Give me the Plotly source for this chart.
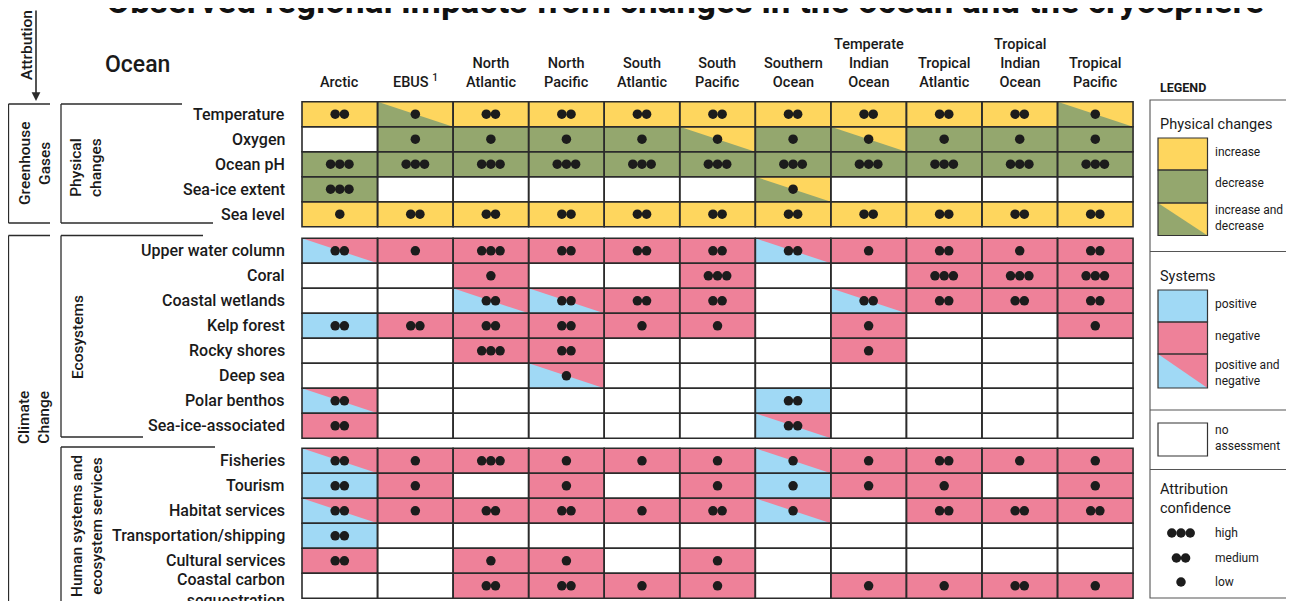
import plotly.graph_objects as go

# ---------------- data ----------------
regions = ["Arctic", "EBUS", "North Atlantic", "North Pacific", "South Atlantic",
           "South Pacific", "Southern Ocean", "Temperate Indian Ocean",
           "Tropical Atlantic", "Tropical Indian Ocean", "Tropical Pacific"]
region_labels = ["Arctic", "EBUS <sup>1</sup>", "North<br>Atlantic", "North<br>Pacific",
                 "South<br>Atlantic", "South<br>Pacific", "Southern<br>Ocean",
                 "Temperate<br>Indian<br>Ocean", "Tropical<br>Atlantic",
                 "Tropical<br>Indian<br>Ocean", "Tropical<br>Pacific"]

# Physical changes: I = increase, D = decrease, ID = increase and decrease, "" = no assessment
physical_rows = ["Temperature", "Oxygen", "Ocean pH", "Sea-ice extent", "Sea level"]
physical_change = [
    ["I", "ID", "I", "I", "I", "I", "I", "I", "I", "I", "ID"],
    ["", "D", "D", "D", "D", "ID", "D", "ID", "D", "D", "D"],
    ["D", "D", "D", "D", "D", "D", "D", "D", "D", "D", "D"],
    ["D", "", "", "", "", "", "ID", "", "", "", ""],
    ["I", "I", "I", "I", "I", "I", "I", "I", "I", "I", "I"],
]
physical_conf = [
    [2, 1, 2, 2, 2, 2, 2, 2, 2, 2, 1],
    [0, 1, 1, 1, 1, 1, 1, 1, 1, 1, 1],
    [3, 3, 3, 3, 3, 3, 3, 3, 3, 3, 3],
    [3, 0, 0, 0, 0, 0, 1, 0, 0, 0, 0],
    [1, 2, 2, 2, 2, 2, 2, 2, 2, 2, 2],
]

# Systems: P = positive, N = negative, PN = positive and negative, "" = no assessment
ecosystem_rows = ["Upper water column", "Coral", "Coastal wetlands", "Kelp forest",
                  "Rocky shores", "Deep sea", "Polar benthos", "Sea-ice-associated"]
ecosystem_impact = [
    ["PN", "N", "N", "N", "N", "N", "PN", "N", "N", "N", "N"],
    ["", "", "N", "", "", "N", "", "", "N", "N", "N"],
    ["", "", "PN", "PN", "N", "N", "", "PN", "N", "N", "N"],
    ["P", "N", "N", "N", "N", "N", "", "N", "", "", "N"],
    ["", "", "N", "N", "", "", "", "N", "", "", ""],
    ["", "", "", "PN", "", "", "", "", "", "", ""],
    ["PN", "", "", "", "", "", "P", "", "", "", ""],
    ["N", "", "", "", "", "", "PN", "", "", "", ""],
]
ecosystem_conf = [
    [2, 1, 3, 2, 2, 2, 2, 1, 2, 1, 2],
    [0, 0, 1, 0, 0, 3, 0, 0, 3, 3, 3],
    [0, 0, 2, 2, 2, 2, 0, 2, 2, 2, 2],
    [2, 2, 2, 2, 1, 1, 0, 1, 0, 0, 1],
    [0, 0, 3, 2, 0, 0, 0, 1, 0, 0, 0],
    [0, 0, 0, 1, 0, 0, 0, 0, 0, 0, 0],
    [2, 0, 0, 0, 0, 0, 2, 0, 0, 0, 0],
    [2, 0, 0, 0, 0, 0, 2, 0, 0, 0, 0],
]

human_rows = ["Fisheries", "Tourism", "Habitat services", "Transportation/shipping",
              "Cultural services", "Coastal carbon<br>sequestration"]
human_impact = [
    ["PN", "N", "N", "N", "N", "N", "PN", "N", "N", "N", "N"],
    ["P", "N", "", "N", "", "N", "P", "N", "N", "", "N"],
    ["PN", "N", "N", "N", "N", "N", "PN", "", "N", "N", "N"],
    ["P", "", "", "", "", "", "", "", "", "", ""],
    ["N", "", "N", "N", "", "N", "", "", "", "", ""],
    ["", "", "N", "N", "N", "N", "", "N", "N", "N", "N"],
]
human_conf = [
    [2, 1, 3, 1, 1, 1, 1, 1, 2, 1, 1],
    [2, 1, 0, 1, 0, 1, 1, 1, 1, 0, 1],
    [2, 1, 2, 2, 1, 2, 1, 0, 2, 2, 2],
    [2, 0, 0, 0, 0, 0, 0, 0, 0, 0, 0],
    [2, 0, 1, 1, 0, 1, 0, 0, 0, 0, 0],
    [0, 0, 2, 2, 1, 1, 0, 1, 1, 2, 1],
]

# ---------------- style ----------------
YELLOW = "#FED65E"
GREEN = "#94A76E"
BLUE = "#A0D9F5"
PINK = "#EE8199"
EDGE = "#2b2b2b"
DOT = "#1c1c1c"
FONT = "Roboto"
TXT = "#1a1a1a"

# page body has an 8px margin: figure is drawn from (8, 8) and axes use window pixels
OFF = 8
WIN_W, WIN_H = 1294, 601
W, H = WIN_W - OFF, WIN_H - OFF
GRID_X0 = 302.0
COL_W = 75.55
ROW_H = 25.0
SECTION_TOPS = [101.7, 238.3, 448.3]
DOT_STEP = 9.2

fill_map = {
    "I": (YELLOW, None), "D": (GREEN, None), "ID": (GREEN, YELLOW),
    "P": (BLUE, None), "N": (PINK, None), "PN": (BLUE, PINK),
}

fill_shapes, tri_shapes, edge_shapes = [], [], []
annotations = []
dot_x, dot_y = [], []


def add_dots(cx, cy, n):
    for k in range(n):
        dot_x.append(cx + (k - (n - 1) / 2) * DOT_STEP)
        dot_y.append(cy)


sections = [
    (physical_rows, physical_change, physical_conf),
    (ecosystem_rows, ecosystem_impact, ecosystem_conf),
    (human_rows, human_impact, human_conf),
]

for (rows, codes, confs), top in zip(sections, SECTION_TOPS):
    for r, row_name in enumerate(rows):
        y0 = top + r * ROW_H
        y1 = y0 + ROW_H
        cy = (y0 + y1) / 2
        dy = 4 if "<br>" in row_name else 0
        annotations.append(dict(x=287, y=cy + dy, xref="x", yref="y", text=row_name,
                                showarrow=False, xanchor="right", yanchor="middle",
                                align="right",
                                font=dict(family=FONT, size=16, color=TXT, weight=500)))
        for c in range(len(regions)):
            x0 = GRID_X0 + c * COL_W
            x1 = x0 + COL_W
            code = codes[r][c]
            if code:
                base, top_right = fill_map[code]
                fill_shapes.append(dict(type="rect", xref="x", yref="y", x0=x0, x1=x1,
                                        y0=y0, y1=y1, fillcolor=base, line=dict(width=0),
                                        layer="below"))
                if top_right:
                    tri_shapes.append(dict(type="path", xref="x", yref="y",
                                           path=f"M{x0},{y0} L{x1},{y0} L{x1},{y1} Z",
                                           fillcolor=top_right, line=dict(width=0),
                                           layer="below"))
            edge_shapes.append(dict(type="rect", xref="x", yref="y", x0=x0, x1=x1,
                                    y0=y0, y1=y1, fillcolor="rgba(0,0,0,0)",
                                    line=dict(color=EDGE, width=1.6), layer="below"))
            if confs[r][c]:
                add_dots((x0 + x1) / 2, cy, confs[r][c])

# column headers
for c, lab in enumerate(region_labels):
    annotations.append(dict(x=GRID_X0 + (c + 0.5) * COL_W, y=93, xref="x", yref="y",
                            text=lab, showarrow=False, xanchor="center", yanchor="bottom",
                            align="center",
                            font=dict(family=FONT, size=14.5, color=TXT, weight=500)))

# Title (cut at top as in the reference)
annotations.append(dict(x=685, y=24, xref="x", yref="y",
                        text="Observed regional impacts from changes in the ocean and the cryosphere",
                        showarrow=False, xanchor="center", yanchor="bottom",
                        font=dict(family=FONT, size=35, color="#111", weight="bold")))
annotations.append(dict(x=103, y=64, xref="x", yref="y", text="Ocean", showarrow=False,
                        xanchor="left", yanchor="middle",
                        font=dict(family=FONT, size=23, color=TXT, weight=500)))

# left brackets
line_style = dict(color=EDGE, width=1.3)
bracket_shapes = []


def bracket(x, y_top, y_bot, top_len_end, bot_len_end):
    bracket_shapes.append(dict(type="line", xref="x", yref="y", x0=x, x1=x, y0=y_top,
                               y1=y_bot, line=line_style))
    bracket_shapes.append(dict(type="line", xref="x", yref="y", x0=x, x1=top_len_end,
                               y0=y_top, y1=y_top, line=line_style))
    if bot_len_end is not None:
        bracket_shapes.append(dict(type="line", xref="x", yref="y", x0=x, x1=bot_len_end,
                                   y0=y_bot, y1=y_bot, line=line_style))


bracket(8.5, 104, 223, 50, 50)
bracket(8.5, 235.5, 610, 50, None)
bracket(61, 104, 223, 182, 213)
bracket(61, 235.5, 437, 203, 143)
bracket(61, 447, 610, 215, None)

rot_font = dict(family=FONT, size=15.5, color=TXT, weight=500)
for txt, x, y in [("Attrbution", 27, 45), ("Greenhouse<br>Gases", 35, 164),
                  ("Climate<br>Change", 34, 418), ("Physical<br>changes", 86, 168),
                  ("Ecosystems", 78, 337), ("Human systems and<br>ecosystem services", 87, 526)]:
    annotations.append(dict(x=x, y=y, xref="x", yref="y", text=txt, textangle=-90,
                            showarrow=False, xanchor="center", yanchor="middle",
                            align="center", font=rot_font))

# attribution arrow
annotations.append(dict(x=36, y=101, ax=36, ay=9, xref="x", yref="y", axref="x", ayref="y",
                        text="", showarrow=True, arrowhead=2, arrowsize=1.1,
                        arrowwidth=1.6, arrowcolor=EDGE))

# ---------------- legend panel ----------------
LX0, LX1 = 1150, 1290
legend_shapes = [
    dict(type="rect", xref="x", yref="y", x0=LX0, x1=LX1, y0=100, y1=598,
         line=dict(color="#555", width=1.1), fillcolor="rgba(0,0,0,0)"),
]
for ysep in [251.5, 410, 469.5]:
    legend_shapes.append(dict(type="line", xref="x", yref="y", x0=LX0, x1=LX1, y0=ysep,
                              y1=ysep, line=dict(color="#555", width=1.1)))

SW0, SW1 = 1158, 1207.5
legend_items = [
    ("I", 138, 170), ("D", 170, 203), ("ID", 203, 235.5),
    ("P", 290, 322), ("N", 322, 354), ("PN", 354, 388),
]
for code, y0, y1 in legend_items:
    base, tr = fill_map[code]
    legend_shapes.append(dict(type="rect", xref="x", yref="y", x0=SW0, x1=SW1, y0=y0, y1=y1,
                              fillcolor=base, line=dict(width=0)))
    if tr:
        legend_shapes.append(dict(type="path", xref="x", yref="y",
                                  path=f"M{SW0},{y0} L{SW1},{y0} L{SW1},{y1} Z",
                                  fillcolor=tr, line=dict(width=0)))
for code, y0, y1 in legend_items:
    legend_shapes.append(dict(type="rect", xref="x", yref="y", x0=SW0, x1=SW1, y0=y0, y1=y1,
                              fillcolor="rgba(0,0,0,0)", line=dict(color="#333", width=1.2)))
legend_shapes.append(dict(type="rect", xref="x", yref="y", x0=SW0, x1=SW1, y0=423, y1=456,
                          fillcolor="white", line=dict(color="#333", width=1.2)))

small = dict(family=FONT, size=12, color=TXT)
head = dict(family=FONT, size=14.5, color=TXT)
legend_texts = [
    ("LEGEND", 1158, 87, dict(family=FONT, size=12.5, color=TXT, weight="bold")),
    ("Physical changes", 1158, 124, head),
    ("increase", 1213, 152, small), ("decrease", 1213, 183, small),
    ("increase and<br>decrease", 1213, 218, small),
    ("Systems", 1158, 276, head),
    ("positive", 1213, 304, small), ("negative", 1213, 336, small),
    ("positive and<br>negative", 1213, 373, small),
    ("no<br>assessment", 1213, 438, small),
    ("Attribution<br>confidence", 1158, 499, head),
    ("high", 1213, 533, small), ("medium", 1213, 558, small), ("low", 1213, 582, small),
]
for txt, x, y, f in legend_texts:
    annotations.append(dict(x=x, y=y, xref="x", yref="y", text=txt, showarrow=False,
                            xanchor="left", yanchor="middle", align="left", font=f))

legend_conf_levels = [3, 2, 1]
for n, yy in zip(legend_conf_levels, [533, 558, 582]):
    add_dots(1181, yy, n)

fig = go.Figure()
fig.add_trace(go.Scatter(x=dot_x, y=dot_y, mode="markers",
                         marker=dict(size=9.5, color=DOT, line=dict(width=0)),
                         hoverinfo="skip", showlegend=False, cliponaxis=False))

fig.update_layout(
    width=W, height=H, autosize=False,
    margin=dict(l=0, r=0, t=0, b=0, pad=0),
    paper_bgcolor="white", plot_bgcolor="white",
    xaxis=dict(range=[OFF, WIN_W], visible=False, fixedrange=True),
    yaxis=dict(range=[WIN_H, OFF], visible=False, fixedrange=True),
    shapes=fill_shapes + tri_shapes + edge_shapes + bracket_shapes + legend_shapes,
    annotations=annotations,
    showlegend=False,
)

fig.write_html("out.html")
